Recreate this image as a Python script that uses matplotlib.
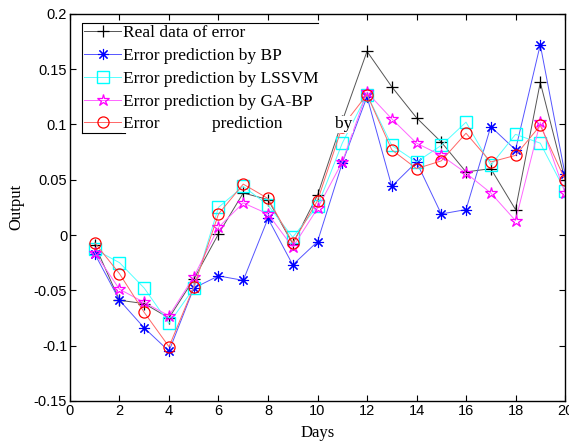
import matplotlib.pyplot as plt
from matplotlib.patches import Rectangle

days = list(range(1, 21))

real = [-0.009, -0.059, -0.062, -0.075, -0.040, 0.001, 0.038, 0.032, -0.008, 0.036,
        0.103, 0.166, 0.134, 0.106, 0.084, 0.057, 0.060, 0.023, 0.138, 0.050]
bp = [-0.017, -0.059, -0.084, -0.105, -0.048, -0.037, -0.041, 0.015, -0.027, -0.006,
      0.065, 0.125, 0.044, 0.066, 0.019, 0.023, 0.098, 0.077, 0.172, 0.055]
lssvm = [-0.013, -0.025, -0.048, -0.080, -0.048, 0.025, 0.044, 0.027, -0.002, 0.026,
         0.083, 0.127, 0.081, 0.066, 0.081, 0.102, 0.063, 0.091, 0.083, 0.040]
gabp = [-0.016, -0.049, -0.061, -0.073, -0.038, 0.007, 0.029, 0.019, -0.011, 0.024,
        0.066, 0.129, 0.105, 0.083, 0.072, 0.056, 0.038, 0.013, 0.102, 0.038]
other = [-0.007, -0.035, -0.070, -0.101, -0.047, 0.019, 0.046, 0.033, -0.007, 0.031,
         0.098, 0.127, 0.077, 0.060, 0.067, 0.092, 0.066, 0.072, 0.099, 0.050]

labels = ["Real data of error", "Error prediction by BP", "Error prediction by LSSVM",
          "Error prediction by GA-BP", "Error            prediction            by"]

fig = plt.figure(figsize=(5.69, 4.44), dpi=100)
ax = fig.add_axes([0.123, 0.097, 0.870, 0.872])

lw = 0.7
ax.plot(days, real, color="#555555", lw=lw, marker="+", ms=9, mec="black", mew=0.9, label=labels[0])
ax.plot(days, bp, color="#5555ff", lw=lw, marker=(8, 2, 0), ms=8, mec="blue", mew=0.8, label=labels[1])
ax.plot(days, lssvm, color="#55ffff", lw=lw, marker="s", ms=8, mec="cyan", mfc="none", mew=1, label=labels[2])
ax.plot(days, gabp, color="#ff66ff", lw=lw, marker="*", ms=9, mec="magenta", mfc="none", mew=0.9, label=labels[3])
ax.plot(days, other, color="#ff6666", lw=lw, marker="o", ms=8, mec="red", mfc="none", mew=0.9, label=labels[4])

ax.set_xlim(0, 20)
ax.set_ylim(-0.15, 0.2)
ax.set_xticks(range(0, 21, 2))
ax.set_yticks([-0.15, -0.1, -0.05, 0, 0.05, 0.1, 0.15, 0.2])
ax.set_yticklabels(["-0.15", "-0.1", "-0.05", "0", "0.05", "0.1", "0.15", "0.2"])
ax.tick_params(direction="in", top=True, right=True, length=4, width=0.8,
               labelsize=10.5, pad=2)
for lab in ax.get_xticklabels() + ax.get_yticklabels():
    lab.set_family("Liberation Sans")
for s in ax.spines.values():
    s.set_linewidth(1.0)

ax.set_xlabel("Days", family="Liberation Serif", fontsize=12, labelpad=5)
ax.set_ylabel("Output", family="Liberation Serif", fontsize=12, labelpad=7)

# legend box drawn by hand (the original's frame stops short of the long last label)
x0, x1, y0, y1 = 0.024, 0.501, 0.692, 0.977
ax.add_patch(Rectangle((x0, y0), x1 - x0, y1 - y0, transform=ax.transAxes,
                       facecolor="white", edgecolor="none", zorder=4))
ax.plot([x0, x0, x1], [y0, y1, y1], transform=ax.transAxes, color="black", lw=0.8, zorder=4.5)
ax.plot([x0, 0.112], [y0, y0], transform=ax.transAxes, color="black", lw=0.8, zorder=4.5)

leg = ax.legend(loc="upper left", bbox_to_anchor=(0.024, 0.977),
                prop={"family": "Liberation Serif", "size": 12.5},
                frameon=False, borderpad=0.15,
                handlelength=2.1, handletextpad=0.1, labelspacing=0.38, borderaxespad=0)
leg.set_zorder(5)
leg.get_texts()[-1].set_bbox(dict(facecolor="white", edgecolor="none", pad=0.5))

fig.savefig("out.png", dpi=100)
